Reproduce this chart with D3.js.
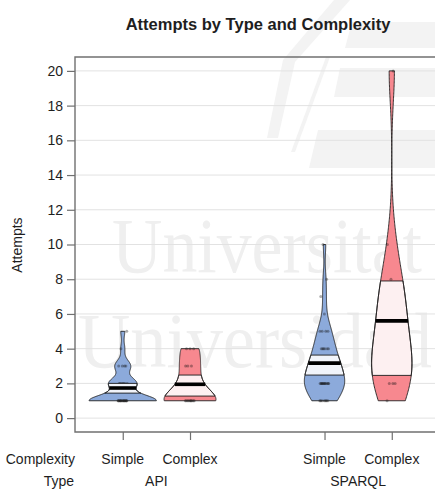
<!DOCTYPE html>
<html>
<head>
<meta charset="utf-8">
<script src="https://cdn.jsdelivr.net/npm/d3@7"></script>
<style>
  body { margin: 0; background: #fff; }
  text { font-family: "Liberation Sans", Arial, Helvetica, sans-serif; fill: #1e1e1e; }
</style>
</head>
<body>
<svg id="chart" width="435" height="490"></svg>
<script>
// ---- data ---------------------------------------------------------------
const types = ["API", "SPARQL"];
const complexities = ["Simple", "Complex"];
const groupType = ["API", "API", "SPARQL", "SPARQL"];
const groupComplexity = ["Simple", "Complex", "Simple", "Complex"];
const groupPos = [1, 2, 4, 5];

// attempts per participant in each group
const attemptsApiSimple = [1,1,1,1,1,1,1,1,1,1,1,1,1,1,1,1,1,2,2,2,2,2,2,2,3,3,3,3,4,5];
const attemptsApiComplex = [1,1,1,1,1,1,1,1,1,1,2,2,2,3,3,3,4,4,4];
const attemptsSparqlSimple = [1,1,1,1,1,1,1,2,2,2,2,2,2,2,2,2,2,2,2,3,3,3,3,3,3,3,3,3,4,4,4,4,4,4,5,5,5,5,6,7,8,10];
const attemptsSparqlComplex = [1,2,2,2,3,3,4,4,5,6,7,7,8,10,20];

// 95% highest density interval of the mean, per group
const hdiLow = [1.44, 1.27, 2.48, 2.46];
const hdiHigh = [2.0, 2.48, 3.63, 7.9];

const yTicks = [0, 2, 4, 6, 8, 10, 12, 14, 16, 18, 20];

// ---- layout -------------------------------------------------------------
const svg = d3.select("#chart");
const W = 435, H = 490;
const plot = { left: 75, top: 57, right: 455, bottom: 432 };

const x = d3.scaleLinear().domain([0.29, 5.94]).range([plot.left, plot.right]);
const y = d3.scaleLinear().domain([-0.8, 20.8]).range([plot.bottom, plot.top]);
const unitPx = x(1) - x(0);

const beanFill = { Simple: "#8caadb", Complex: "#f7888f" };
const bandFill = { Simple: "#f1f4fa", Complex: "#fdf0f1" };

// ---- background watermark -------------------------------------------------
const wm = svg.append("g").attr("fill", "#f3f3f3");
wm.append("path").attr("d", "M334,0 L350,0 L295,62 L278,138 L267,138 L283,60 Z");
wm.append("path").attr("d", "M326,57 L330,57 L295,152 L291,152 Z");
wm.append("path").attr("d", "M352,22 L435,22 L435,48 L345,48 Z");
wm.append("path").attr("d", "M340,68 L435,68 L435,97 L334,97 Z");
wm.append("path").attr("d", "M318,130 L435,130 L435,168 L309,168 Z");
wm.append("text")
  .attr("transform", "translate(112,272) scale(1,1.14)")
  .attr("textLength", 310).attr("lengthAdjust", "spacingAndGlyphs")
  .style("font-family", "'Liberation Serif', 'DejaVu Serif', serif")
  .style("font-size", "68px").style("fill", "#efefef").text("Universitat");
wm.append("text")
  .attr("transform", "translate(78,367) scale(1,1.14)")
  .attr("textLength", 354).attr("lengthAdjust", "spacingAndGlyphs")
  .style("font-family", "'Liberation Serif', 'DejaVu Serif', serif")
  .style("font-size", "68px").style("fill", "#efefef").text("Universidad");

// ---- grid -----------------------------------------------------------------
svg.append("g").selectAll("line").data(yTicks).join("line")
  .attr("x1", plot.left).attr("x2", W)
  .attr("y1", d => y(d)).attr("y2", d => y(d))
  .attr("stroke", "#e2e2e2").attr("stroke-width", 1);

// ---- beans ----------------------------------------------------------------
const groups = [attemptsApiSimple, attemptsApiComplex, attemptsSparqlSimple, attemptsSparqlComplex];

function bwNrd0(v) {
  const s = d3.deviation(v);
  const iqr = d3.quantile(v, 0.75) - d3.quantile(v, 0.25);
  const lo = Math.min(s, iqr / 1.34);
  return 0.9 * lo * Math.pow(v.length, -0.2);
}

function kde(v, bw) {
  const c = 1 / (Math.sqrt(2 * Math.PI) * bw * v.length);
  return t => c * d3.sum(v, xi => Math.exp(-0.5 * ((t - xi) / bw) ** 2));
}

const widthMin = 0.3, widthMax = 0.5;
const beanLayer = svg.append("g");
const pointLayer = svg.append("g");
const bandLayer = svg.append("g");
const lineLayer = svg.append("g");

groups.forEach((vals, gi) => {
  const sorted = vals.slice().sort(d3.ascending);
  const bw = bwNrd0(sorted);
  const dens = kde(sorted, bw);
  const lo = d3.min(sorted), hi = d3.max(sorted);
  const steps = 240;
  const grid = d3.range(steps + 1).map(i => lo + (hi - lo) * i / steps);
  const dMax = d3.max(grid, dens);
  let k = 1;
  if (dMax < widthMin) k = widthMin / dMax;
  if (dMax > widthMax) k = widthMax / dMax;
  const half = t => dens(t) * k * unitPx;
  const cx = x(groupPos[gi]);
  const cpx = groupComplexity[gi];

  const area = d3.area()
    .y(t => y(t))
    .x0(t => cx - half(t))
    .x1(t => cx + half(t));

  beanLayer.append("path").attr("d", area(grid))
    .attr("fill", beanFill[cpx]).attr("stroke", "none");

  // raw observations, spread sideways a little
  pointLayer.selectAll(null).data(vals).join("circle")
    .attr("cx", (d, i) => cx + (((i * 0.6180339887) % 1) - 0.5) * 2 * 0.07 * unitPx)
    .attr("cy", d => y(d))
    .attr("r", 1.5)
    .attr("fill", "#111").attr("fill-opacity", 0.35);

  // inference band, bounded by the bean outline
  const bLo = hdiLow[gi], bHi = hdiHigh[gi];
  const bandGrid = d3.range(81).map(i => bLo + (bHi - bLo) * i / 80);
  bandLayer.append("path").attr("d", area(bandGrid))
    .attr("fill", bandFill[cpx]).attr("stroke", "#1a1a1a").attr("stroke-width", 0.9);

  // bean outline
  lineLayer.append("path").attr("d", area(grid))
    .attr("fill", "none").attr("stroke", "#222").attr("stroke-width", 0.9);

  // average line
  const m = d3.mean(vals);
  lineLayer.append("line")
    .attr("x1", cx - half(m)).attr("x2", cx + half(m))
    .attr("y1", y(m)).attr("y2", y(m))
    .attr("stroke", "#000").attr("stroke-width", 3.6);
});

// ---- frame and axes -------------------------------------------------------
svg.append("path")
  .attr("d", `M${W + 5},${plot.top} L${plot.left},${plot.top} L${plot.left},${plot.bottom} L${W + 5},${plot.bottom}`)
  .attr("fill", "none").attr("stroke", "#707070").attr("stroke-width", 1.4);

const yAxis = d3.axisLeft(y).tickValues(yTicks).tickSize(8).tickPadding(4);
const gy = svg.append("g").attr("transform", `translate(${plot.left},0)`).call(yAxis);
gy.select(".domain").remove();
gy.selectAll(".tick line").attr("stroke", "#707070").attr("stroke-width", 1.2);
gy.selectAll(".tick text").style("font-size", "14px").style("fill", "#1e1e1e")
  .style("font-family", "'Liberation Sans', Arial, sans-serif");

const xAxis = d3.axisBottom(x).tickValues(groupPos).tickSize(8).tickFormat(() => "");
const gx = svg.append("g").attr("transform", `translate(0,${plot.bottom})`).call(xAxis);
gx.select(".domain").remove();
gx.selectAll(".tick line").attr("stroke", "#707070").attr("stroke-width", 1.2);

// complexity row
svg.append("g").selectAll("text").data(groupPos).join("text")
  .attr("x", d => x(d)).attr("y", 464).attr("text-anchor", "middle")
  .style("font-size", "14px").text((d, i) => groupComplexity[i]);
svg.append("text").attr("x", 75).attr("y", 464).attr("text-anchor", "end")
  .style("font-size", "14px").text("Complexity");

// type row
svg.append("g").selectAll("text").data(types).join("text")
  .attr("x", t => {
    const ps = groupPos.filter((p, i) => groupType[i] === t);
    return x(d3.mean(ps));
  })
  .attr("y", 486).attr("text-anchor", "middle")
  .style("font-size", "14px").text(t => t);
svg.append("text").attr("x", 74).attr("y", 486).attr("text-anchor", "end")
  .style("font-size", "14px").text("Type");

// axis title and chart title
svg.append("text")
  .attr("transform", `translate(22,245) rotate(-90)`)
  .attr("text-anchor", "middle").style("font-size", "14px").text("Attempts");

svg.append("text").attr("x", 258).attr("y", 30).attr("text-anchor", "middle")
  .style("font-size", "16.5px").style("font-weight", "bold").text("Attempts by Type and Complexity");
</script>
</body>
</html>
